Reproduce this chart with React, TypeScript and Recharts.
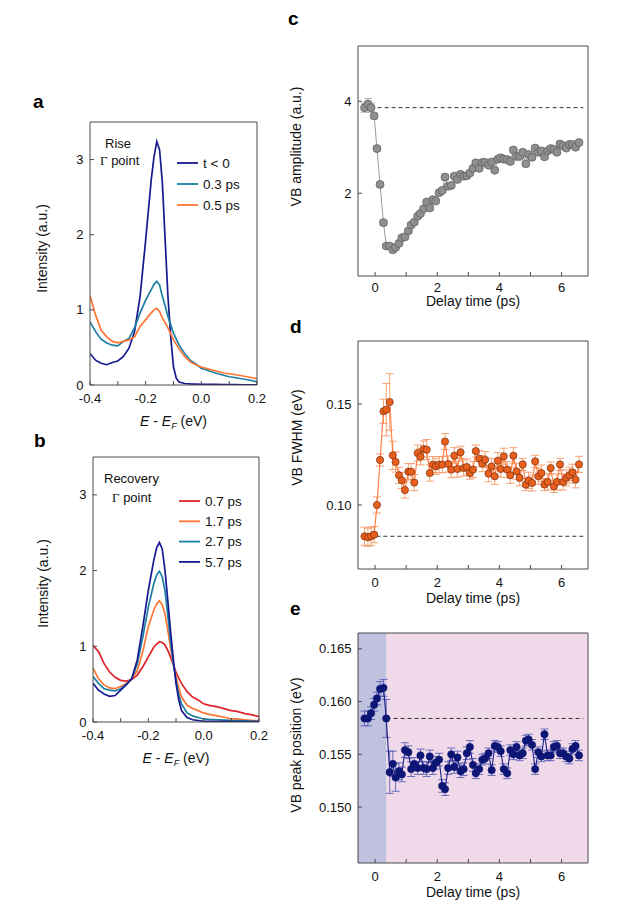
import React from 'react';
import { ComposedChart, Line, XAxis, YAxis, ErrorBar, ReferenceLine, ReferenceArea } from 'recharts';

const FONT = '"Liberation Sans", Arial, Helvetica, sans-serif';
const AXIS = '#4a4a4a';
const INK = '#111';

const NAVY = '#16198f';
const TEAL = '#1b7fa4';
const ORANGE = '#ff7534';
const RED = '#e0232b';

// ---------- panels a / b : spectra ----------
const energies = [
  -0.4, -0.38, -0.36, -0.34, -0.32, -0.3, -0.28, -0.26, -0.24, -0.22, -0.2, -0.18, -0.17,
  -0.16, -0.15, -0.14, -0.13, -0.12, -0.11, -0.1, -0.09, -0.08, -0.06, -0.04, -0.02, 0.0,
  0.02, 0.05, 0.08, 0.1, 0.12, 0.15, 0.18, 0.2,
];

const riseT0 = [
  0.42, 0.33, 0.29, 0.27, 0.3, 0.32, 0.38, 0.49, 0.71, 1.18, 1.93, 2.73, 3.04,
  3.24, 3.13, 2.69, 1.93, 1.18, 0.64, 0.24, 0.09, 0.04, 0.02, 0.015, 0.012, 0.01,
  0.01, 0.008, 0.006, 0.005, 0.004, 0.003, 0.002, 0.002,
];
const rise03 = [
  0.84, 0.71, 0.61, 0.56, 0.53, 0.52, 0.58, 0.62, 0.76, 0.96, 1.13, 1.27, 1.34,
  1.38, 1.33, 1.18, 1.05, 0.91, 0.8, 0.69, 0.61, 0.53, 0.42, 0.33, 0.28, 0.22,
  0.2, 0.16, 0.13, 0.11, 0.1, 0.08, 0.06, 0.04,
];
const rise05 = [
  1.19, 0.93, 0.73, 0.64, 0.58, 0.56, 0.58, 0.6, 0.64, 0.78, 0.87, 0.96, 1.0,
  1.02, 0.98, 0.89, 0.83, 0.76, 0.68, 0.6, 0.54, 0.48, 0.38, 0.31, 0.27, 0.24,
  0.22, 0.19, 0.16, 0.15, 0.14, 0.12, 0.1, 0.08,
];

const rec07 = [
  1.01, 0.93, 0.77, 0.66, 0.59, 0.55, 0.54, 0.56, 0.62, 0.73, 0.86, 0.99, 1.03,
  1.06, 1.05, 1.02, 0.95, 0.86, 0.76, 0.66, 0.58, 0.51, 0.4, 0.33, 0.29, 0.24,
  0.22, 0.2, 0.17, 0.15, 0.14, 0.11, 0.09, 0.07,
];
const rec17 = [
  0.71, 0.57, 0.49, 0.45, 0.44, 0.47, 0.51, 0.57, 0.68, 0.93, 1.26, 1.48, 1.56,
  1.6, 1.55, 1.43, 1.22, 0.99, 0.78, 0.6, 0.45, 0.33, 0.22, 0.18, 0.15, 0.12,
  0.1, 0.08, 0.06, 0.04, 0.04, 0.03, 0.02, 0.02,
];
const rec27 = [
  0.6, 0.51, 0.44, 0.42, 0.41, 0.44, 0.5, 0.57, 0.77, 1.12, 1.52, 1.83, 1.94,
  1.99, 1.92, 1.74, 1.42, 1.08, 0.78, 0.55, 0.36, 0.24, 0.12, 0.08, 0.06, 0.04,
  0.035, 0.03, 0.025, 0.02, 0.02, 0.015, 0.01, 0.01,
];
const rec57 = [
  0.51, 0.42, 0.37, 0.34, 0.35, 0.42, 0.49, 0.57, 0.82, 1.26, 1.74, 2.14, 2.3,
  2.37, 2.29, 2.01, 1.62, 1.21, 0.84, 0.51, 0.29, 0.15, 0.06, 0.03, 0.02, 0.01,
  0.01, 0.008, 0.007, 0.006, 0.005, 0.005, 0.004, 0.004,
];

const riseSeries = [
  { key: 't0', name: 't < 0', color: NAVY, values: riseT0 },
  { key: 'p03', name: '0.3 ps', color: TEAL, values: rise03 },
  { key: 'p05', name: '0.5 ps', color: ORANGE, values: rise05 },
];
const recoverySeries = [
  { key: 'p07', name: '0.7 ps', color: RED, values: rec07 },
  { key: 'p17', name: '1.7 ps', color: ORANGE, values: rec17 },
  { key: 'p27', name: '2.7 ps', color: TEAL, values: rec27 },
  { key: 'p57', name: '5.7 ps', color: NAVY, values: rec57 },
];

const energyTicks = [-0.4, -0.3, -0.2, -0.1, 0, 0.1, 0.2];
const intensityTicks = [0, 1, 2, 3];

// ---------- panels c / d / e : time traces ----------
const delayTimes = [
  -0.34, -0.23, -0.13, -0.03, 0.06, 0.16, 0.27, 0.36, 0.47, 0.57,
  0.66, 0.77, 0.86, 0.96, 1.07, 1.16, 1.26, 1.37, 1.46, 1.56,
  1.66, 1.76, 1.86, 1.95, 2.06, 2.16, 2.25, 2.35, 2.45, 2.55,
  2.65, 2.75, 2.85, 2.95, 3.05, 3.15, 3.24, 3.35, 3.45, 3.54,
  3.65, 3.75, 3.85, 3.95, 4.04, 4.14, 4.25, 4.35, 4.45, 4.55,
  4.65, 4.75, 4.85, 4.94, 5.05, 5.15, 5.25, 5.35, 5.45, 5.55,
  5.65, 5.75, 5.85, 5.95, 6.05, 6.15, 6.25, 6.35, 6.45, 6.56,
];

const amplitude = [
  3.86, 3.94, 3.86, 3.68, 2.97, 2.19, 1.36, 0.85, 0.85, 0.77,
  0.82, 0.91, 1.03, 1.05, 1.18, 1.31, 1.37, 1.5, 1.56, 1.66,
  1.81, 1.68, 1.86, 1.83, 2.01, 2.06, 2.35, 2.15, 2.17, 2.37,
  2.3, 2.41, 2.37, 2.38, 2.44, 2.54, 2.66, 2.54, 2.67, 2.67,
  2.61, 2.68, 2.5, 2.74, 2.77, 2.74, 2.73, 2.69, 2.94, 2.8,
  2.8, 2.89, 2.64, 2.84, 2.78, 2.98, 2.89, 2.92, 2.79, 2.92,
  2.97, 2.95, 2.89, 3.07, 3.03, 2.98, 3.06, 3.06, 3.0, 3.1,
];
const amplitudeErr = [
  0.1, 0.12, 0.1, 0.06, 0.05, 0.05, 0.05, 0.05, 0.05, 0.05,
  0.05, 0.05, 0.05, 0.05, 0.05, 0.05, 0.05, 0.05, 0.05, 0.05,
  0.05, 0.05, 0.05, 0.05, 0.05, 0.05, 0.06, 0.05, 0.05, 0.05,
  0.05, 0.05, 0.05, 0.05, 0.05, 0.05, 0.05, 0.05, 0.05, 0.05,
  0.05, 0.05, 0.05, 0.05, 0.05, 0.05, 0.05, 0.05, 0.05, 0.05,
  0.05, 0.05, 0.05, 0.05, 0.05, 0.05, 0.05, 0.05, 0.05, 0.05,
  0.05, 0.05, 0.05, 0.05, 0.05, 0.05, 0.05, 0.05, 0.05, 0.05,
];

const fwhm = [
  0.0845, 0.084, 0.0845, 0.0853, 0.1, 0.1223, 0.1464, 0.1472, 0.151, 0.1246,
  0.1213, 0.1147, 0.1122, 0.1074, 0.1165, 0.1165, 0.1111, 0.1257, 0.1239, 0.1277,
  0.1274, 0.1158, 0.12, 0.1191, 0.12, 0.12, 0.1314, 0.1203, 0.1175, 0.1244,
  0.1178, 0.1261, 0.1183, 0.1188, 0.1158, 0.1175, 0.1267, 0.1229, 0.1205, 0.1224,
  0.1155, 0.1191, 0.1142, 0.1219, 0.1178, 0.1241, 0.1175, 0.1147, 0.1244, 0.1167,
  0.1134, 0.1201, 0.1101, 0.1122, 0.1109, 0.1216, 0.1142, 0.1158, 0.1101, 0.1114,
  0.1183, 0.1092, 0.1114, 0.1201, 0.1114, 0.1134, 0.1147, 0.1162, 0.1125, 0.1201,
];
const fwhmErr = [
  0.0045, 0.0045, 0.0045, 0.004, 0.004, 0.003, 0.006, 0.013, 0.014, 0.007,
  0.005, 0.004, 0.004, 0.004, 0.004, 0.004, 0.004, 0.004, 0.004, 0.004,
  0.005, 0.004, 0.004, 0.004, 0.004, 0.004, 0.004, 0.004, 0.004, 0.004,
  0.004, 0.003, 0.004, 0.004, 0.003, 0.004, 0.003, 0.004, 0.004, 0.004,
  0.004, 0.004, 0.004, 0.004, 0.004, 0.004, 0.004, 0.004, 0.004, 0.004,
  0.004, 0.003, 0.003, 0.004, 0.004, 0.003, 0.004, 0.004, 0.003, 0.004,
  0.003, 0.003, 0.004, 0.003, 0.004, 0.004, 0.004, 0.004, 0.004, 0.004,
];

const peakPos = [
  0.1584, 0.1584, 0.1589, 0.1597, 0.1603, 0.1612, 0.1613, 0.1584, 0.1533, 0.1541,
  0.1528, 0.1534, 0.1531, 0.1554, 0.1552, 0.1536, 0.1541, 0.1537, 0.1549, 0.1537,
  0.1536, 0.1548, 0.1537, 0.1542, 0.1545, 0.152, 0.1517, 0.1537, 0.155, 0.1538,
  0.1547, 0.1534, 0.1536, 0.1551, 0.1557, 0.154, 0.1532, 0.1536, 0.1545, 0.1546,
  0.1551, 0.1535, 0.1558, 0.1557, 0.1553, 0.1536, 0.1532, 0.1554, 0.155, 0.1557,
  0.1549, 0.1551, 0.1563, 0.1564, 0.1559, 0.1536, 0.1552, 0.1548, 0.1569, 0.1549,
  0.1549, 0.1557, 0.1558, 0.1551, 0.1551, 0.1548, 0.1546, 0.1555, 0.1558, 0.1549,
];
const peakPosErr = [
  0.0007, 0.0007, 0.0006, 0.0006, 0.0006, 0.0007, 0.0008, 0.0018, 0.002, 0.0012,
  0.0013, 0.0008, 0.0007, 0.0007, 0.0006, 0.0007, 0.0006, 0.0006, 0.0006, 0.0006,
  0.0007, 0.0006, 0.0006, 0.0006, 0.0006, 0.0006, 0.0006, 0.0006, 0.0006, 0.0006,
  0.0006, 0.0006, 0.0006, 0.0006, 0.0006, 0.0006, 0.0005, 0.0005, 0.0005, 0.0005,
  0.0005, 0.0005, 0.0005, 0.0005, 0.0005, 0.0005, 0.0005, 0.0005, 0.0005, 0.0005,
  0.0005, 0.0005, 0.0005, 0.0005, 0.0005, 0.0005, 0.0005, 0.0005, 0.0005, 0.0005,
  0.0005, 0.0005, 0.0005, 0.0005, 0.0005, 0.0005, 0.0005, 0.0005, 0.0005, 0.0005,
];

const delayTicks = [0, 1, 2, 3, 4, 5, 6];
const amplitudeTicks = [2, 4];
const fwhmTicks = [0.1, 0.15];
const peakPosTicks = [0.15, 0.155, 0.16, 0.165];

// equilibrium levels (dashed) and the t < 0 / t > 0 shading edge in panel e
const amplitudeEq = 3.86;
const fwhmEq = 0.0845;
const peakPosEq = 0.1584;
const shadeEdge = 0.37;

const DELAY_DOMAIN: [number, number] = [-0.55, 6.85];

const spectraTable = (series: { key: string; values: number[] }[]) =>
  energies.map((e, i) => {
    const row: Record<string, number> = { e };
    series.forEach((s) => (row[s.key] = s.values[i]));
    return row;
  });

const riseData = spectraTable(riseSeries);
const recoveryData = spectraTable(recoverySeries);

const traceData = delayTimes.map((t, i) => ({
  t,
  amp: amplitude[i],
  ampErr: amplitudeErr[i],
  fwhm: fwhm[i],
  fwhmErr: fwhmErr[i],
  pos: peakPos[i],
  posErr: peakPosErr[i],
}));

const tickStyle = { fill: INK, fontSize: 13, fontFamily: FONT };

type Frame = {
  xKey: string;
  xDomain: [number, number];
  xTicks: number[];
  xFmt: (v: number) => string;
  yDomain: [number, number];
  yTicks: number[];
  yFmt: (v: number) => string;
  yWidth: number;
  xHeight: number;
  xTickMargin: number;
  xLabel: (vb: any) => React.ReactNode;
  yLabel: (vb: any) => React.ReactNode;
};

// box frame with inward ticks on all four sides
function frameAxes(f: Frame) {
  return [
    <XAxis
      key="xb"
      xAxisId="b"
      dataKey={f.xKey}
      type="number"
      domain={f.xDomain}
      ticks={f.xTicks}
      interval={0}
      allowDataOverflow
      tickFormatter={f.xFmt}
      height={f.xHeight}
      stroke={AXIS}
      tickSize={-4}
      tickMargin={f.xTickMargin}
      tick={tickStyle}
      label={{ content: (p: any) => f.xLabel(p.viewBox) }}
    />,
    <XAxis
      key="xt"
      xAxisId="t"
      orientation="top"
      dataKey={f.xKey}
      type="number"
      domain={f.xDomain}
      ticks={f.xTicks}
      interval={0}
      allowDataOverflow
      height={1}
      stroke={AXIS}
      tickSize={-4}
      tick={false}
    />,
    <YAxis
      key="yl"
      yAxisId="l"
      type="number"
      domain={f.yDomain}
      ticks={f.yTicks}
      interval={0}
      allowDataOverflow
      tickFormatter={f.yFmt}
      width={f.yWidth}
      stroke={AXIS}
      tickSize={-4}
      tickMargin={10.5}
      tick={tickStyle}
      label={{ content: (p: any) => f.yLabel(p.viewBox) }}
    />,
    <YAxis
      key="yr"
      yAxisId="r"
      orientation="right"
      type="number"
      domain={f.yDomain}
      ticks={f.yTicks}
      interval={0}
      allowDataOverflow
      width={1}
      stroke={AXIS}
      tickSize={-4}
      tick={false}
    />,
  ];
}

// rotated y title, centred at (frameLeft + dx, frameMid + dy)
const yTitle = (text: string, dx: number, dy: number) => (vb: any) => {
  const cx = vb.x + vb.width + dx;
  const cy = vb.y + vb.height / 2 + dy;
  return (
    <text
      x={cx}
      y={cy}
      dy="0.35em"
      transform={`rotate(-90 ${cx} ${cy})`}
      textAnchor="middle"
      fontSize={14}
      fontFamily={FONT}
      fill={INK}
    >
      {text}
    </text>
  );
};

const energyTitle = (vb: any) => (
  <text x={vb.x + vb.width / 2} y={vb.y + 41} textAnchor="middle" fontSize={14} fontFamily={FONT} fill={INK}>
    <tspan fontStyle="italic">E</tspan>
    <tspan> - </tspan>
    <tspan fontStyle="italic">E</tspan>
    <tspan fontStyle="italic" fontSize={9} dy={3}>F</tspan>
    <tspan dy={-3}> (eV)</tspan>
  </text>
);

const delayTitle = (base: number) => (vb: any) => (
  <text x={vb.x + vb.width / 2} y={vb.y + base} textAnchor="middle" fontSize={14} fontFamily={FONT} fill={INK}>
    Delay time (ps)
  </text>
);

const energyFmt = (v: number) => (Math.round(v * 10) % 2 === 0 ? v.toFixed(1) : '');
const delayFmt = (v: number) => (v % 2 === 0 ? String(v) : '');

function SpectraPanel(props: {
  left: number;
  top: number;
  yWidth: number;
  plotW: number;
  plotH: number;
  data: Record<string, number>[];
  series: { key: string; color: string }[];
  xTickMargin: number;
  yTitleDx: number;
  yTitleDy: number;
}) {
  const { left, top, yWidth, plotW, plotH, data, series } = props;
  return (
    <div style={{ position: 'absolute', left, top }}>
      <ComposedChart
        width={yWidth + plotW + 16}
        height={plotH + 2 + 50}
        data={data}
        margin={{ top: 1, right: 15, bottom: 0, left: 0 }}
      >
        {frameAxes({
          xKey: 'e',
          xDomain: [-0.4, 0.2],
          xTicks: energyTicks,
          xFmt: energyFmt,
          yDomain: [0, 3.5],
          yTicks: intensityTicks,
          yFmt: (v) => String(v),
          yWidth,
          xHeight: 50,
          xTickMargin: props.xTickMargin,
          xLabel: energyTitle,
          yLabel: yTitle('Intensity (a.u.)', props.yTitleDx, props.yTitleDy),
        })}
        {series.map((s) => (
          <Line
            key={s.key}
            xAxisId="b"
            yAxisId="l"
            dataKey={s.key}
            type="linear"
            stroke={s.color}
            strokeWidth={1.7}
            dot={false}
            isAnimationActive={false}
          />
        ))}
      </ComposedChart>
    </div>
  );
}

function Overlay() {
  const txt = { fontFamily: FONT, fill: INK };
  const letter = { fontFamily: FONT, fill: '#000', fontSize: 19, fontWeight: 700 };
  const legend = (series: { name: string; color: string }[], x: number, y0: number, step: number) =>
    series.map((s, i) => (
      <g key={s.name}>
        <line x1={x} x2={x + 21} y1={y0 + i * step} y2={y0 + i * step} stroke={s.color} strokeWidth={1.8} />
        <text x={x + 26} y={y0 + i * step + 4.7} fontSize={13.5} {...txt}>
          {s.name}
        </text>
      </g>
    ));
  return (
    <svg
      width={623}
      height={909}
      style={{ position: 'absolute', left: 0, top: 0, pointerEvents: 'none' }}
    >
      <text x={33} y={108} {...letter}>a</text>
      <text x={34} y={447} {...letter}>b</text>
      <text x={288} y={25} {...letter}>c</text>
      <text x={290} y={333} {...letter}>d</text>
      <text x={290} y={615} {...letter}>e</text>

      <text x={105} y={148} fontSize={13} {...txt}>Rise</text>
      <text x={100} y={165} fontSize={13} {...txt}>
        <tspan fontFamily='"Liberation Serif", "DejaVu Serif", serif'>Γ</tspan> point
      </text>
      {legend(riseSeries, 177, 163, 21)}

      <text x={104} y={483} fontSize={13} {...txt}>Recovery</text>
      <text x={112} y={502} fontSize={13} {...txt}>
        <tspan fontFamily='"Liberation Serif", "DejaVu Serif", serif'>Γ</tspan> point
      </text>
      {legend(recoverySeries, 179, 501, 20.3)}
    </svg>
  );
}

export default function App() {
  const yW = 70;
  return (
    <div
      style={{
        position: 'absolute',
        left: 0,
        top: 0,
        width: 623,
        height: 909,
        background: '#fff',
        fontFamily: FONT,
        overflow: 'hidden',
      }}
    >
      <SpectraPanel
        left={90 - yW}
        top={120}
        yWidth={yW}
        plotW={167}
        plotH={263}
        data={riseData}
        series={riseSeries}
        xTickMargin={13}
        yTitleDx={-48}
        yTitleDy={-5}
      />
      <SpectraPanel
        left={93 - yW}
        top={455}
        yWidth={yW}
        plotW={166}
        plotH={265}
        data={recoveryData}
        series={recoverySeries}
        xTickMargin={12.5}
        yTitleDx={-49.5}
        yTitleDy={-6}
      />

      {/* c: amplitude */}
      <div style={{ position: 'absolute', left: 358 - yW, top: 44 }}>
        <ComposedChart width={yW + 230 + 2} height={2 + 230 + 40} data={traceData} margin={{ top: 1, right: 1, bottom: 0, left: 0 }}>
          {frameAxes({
            xKey: 't',
            xDomain: DELAY_DOMAIN,
            xTicks: delayTicks,
            xFmt: delayFmt,
            yDomain: [0.2, 5.2],
            yTicks: amplitudeTicks,
            yFmt: (v) => String(v),
            yWidth: yW,
            xHeight: 40,
            xTickMargin: 10.4,
            xLabel: delayTitle(30),
            yLabel: yTitle('VB amplitude (a.u.)', -62, -14.5),
          })}
          <ReferenceLine
            xAxisId="b"
            yAxisId="l"
            segment={[{ x: 0.08, y: amplitudeEq }, { x: 6.7, y: amplitudeEq }]}
            stroke="#333"
            strokeDasharray="4 3"
          />
          <Line
            xAxisId="b"
            yAxisId="l"
            dataKey="amp"
            type="linear"
            stroke="#9c9c9c"
            strokeWidth={1}
            dot={{ r: 4, fill: '#8f8f8f', stroke: '#5c5c5c', strokeWidth: 0.7 }}
            isAnimationActive={false}
          >
            <ErrorBar dataKey="ampErr" width={4} stroke="#a0a0a0" strokeWidth={0.8} />
          </Line>
        </ComposedChart>
      </div>

      {/* d: FWHM */}
      <div style={{ position: 'absolute', left: 358 - yW, top: 339 }}>
        <ComposedChart width={yW + 230 + 2} height={2 + 228 + 40} data={traceData} margin={{ top: 1, right: 1, bottom: 0, left: 0 }}>
          {frameAxes({
            xKey: 't',
            xDomain: DELAY_DOMAIN,
            xTicks: delayTicks,
            xFmt: delayFmt,
            yDomain: [0.0683, 0.1812],
            yTicks: fwhmTicks,
            yFmt: (v) => v.toFixed(2),
            yWidth: yW,
            xHeight: 40,
            xTickMargin: 12.9,
            xLabel: delayTitle(34),
            yLabel: yTitle('VB FWHM (eV)', -61, -17.5),
          })}
          <ReferenceLine
            xAxisId="b"
            yAxisId="l"
            segment={[{ x: 0.04, y: fwhmEq }, { x: 6.7, y: fwhmEq }]}
            stroke="#333"
            strokeDasharray="4 3"
          />
          <Line
            xAxisId="b"
            yAxisId="l"
            dataKey="fwhm"
            type="linear"
            stroke="#ff7a3c"
            strokeWidth={1.1}
            dot={{ r: 3.6, fill: '#e95f1d', stroke: '#7a2e0c', strokeWidth: 0.7 }}
            isAnimationActive={false}
          >
            <ErrorBar dataKey="fwhmErr" width={4} stroke="#f79764" strokeWidth={0.9} />
          </Line>
        </ComposedChart>
      </div>

      {/* e: peak position */}
      <div style={{ position: 'absolute', left: 358 - yW, top: 631 }}>
        <ComposedChart width={yW + 230 + 2} height={2 + 230 + 40} data={traceData} margin={{ top: 1, right: 1, bottom: 0, left: 0 }}>
          {frameAxes({
            xKey: 't',
            xDomain: DELAY_DOMAIN,
            xTicks: delayTicks,
            xFmt: delayFmt,
            yDomain: [0.1447, 0.1665],
            yTicks: peakPosTicks,
            yFmt: (v) => v.toFixed(3),
            yWidth: yW,
            xHeight: 40,
            xTickMargin: 12.9,
            xLabel: delayTitle(34),
            yLabel: yTitle('VB peak position (eV)', -62, -3),
          })}
          <ReferenceArea xAxisId="b" yAxisId="l" x1={DELAY_DOMAIN[0]} x2={shadeEdge} fill="#bfc1de" fillOpacity={1} stroke="none" />
          <ReferenceArea xAxisId="b" yAxisId="l" x1={shadeEdge} x2={DELAY_DOMAIN[1]} fill="#f0dae9" fillOpacity={1} stroke="none" />
          <ReferenceLine
            xAxisId="b"
            yAxisId="l"
            segment={[{ x: shadeEdge, y: peakPosEq }, { x: 6.7, y: peakPosEq }]}
            stroke="#333"
            strokeDasharray="4 3"
          />
          <Line
            xAxisId="b"
            yAxisId="l"
            dataKey="pos"
            type="linear"
            stroke="#1a1f86"
            strokeWidth={1.1}
            dot={{ r: 3.7, fill: '#0d1675', stroke: '#0d1675', strokeWidth: 0.5 }}
            isAnimationActive={false}
          >
            <ErrorBar dataKey="posErr" width={4} stroke="#5d62b8" strokeWidth={0.9} />
          </Line>
        </ComposedChart>
      </div>

      <Overlay />
    </div>
  );
}
